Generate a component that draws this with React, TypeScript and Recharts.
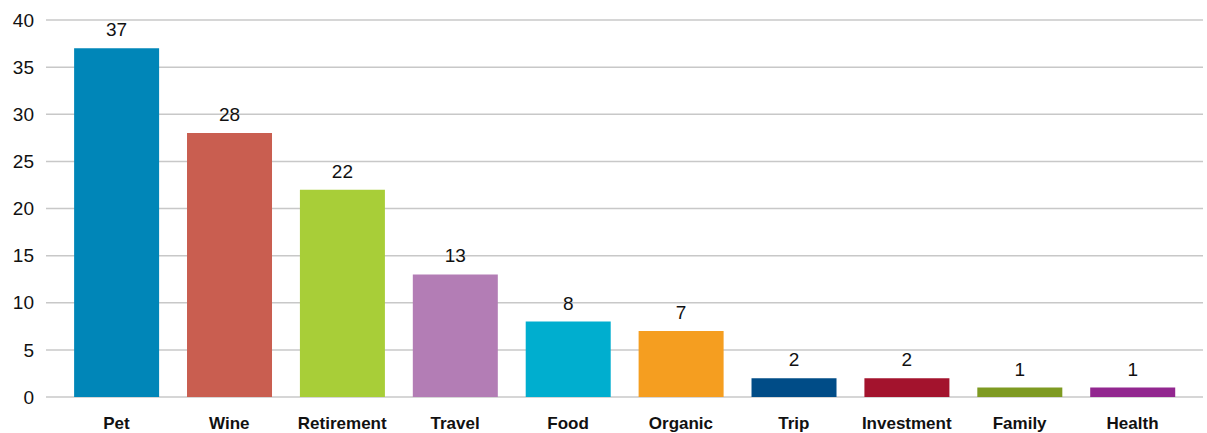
import { BarChart, Bar, XAxis, YAxis, CartesianGrid, Cell, LabelList } from 'recharts';

const categories = ['Pet', 'Wine', 'Retirement', 'Travel', 'Food', 'Organic', 'Trip', 'Investment', 'Family', 'Health'];
const counts = [37, 28, 22, 13, 8, 7, 2, 2, 1, 1];
const colors = ['#0086B8', '#C95E50', '#A8CE38', '#B37DB5', '#00AECF', '#F59E20', '#004C87', '#A3132D', '#7E9A22', '#92278F'];
const yTicks = [0, 5, 10, 15, 20, 25, 30, 35, 40];

const data = categories.map((name, i) => ({ name, value: counts[i] }));

const App = () => {
  return (
    <div style={{ position: 'absolute', left: 0, top: 0, background: '#fff', fontFamily: '"Liberation Sans", Arial, sans-serif' }}>
      <BarChart width={1207} height={433} data={data} margin={{ top: 20, right: 4, bottom: 0, left: 0 }} barCategoryGap="12.5%">
        <CartesianGrid vertical={false} stroke="#c8c8c8" strokeWidth={1.5} />
        <XAxis
          dataKey="name"
          height={36}
          axisLine={false}
          tickLine={false}
          padding={{ left: 14, right: 14 }}
          tick={{ fill: '#111', fontSize: 17, fontWeight: 'bold', fontFamily: '"Liberation Sans Narrow", "Liberation Sans", sans-serif' }}
          dy={12}
        />
        <YAxis
          width={46}
          domain={[0, 40]}
          ticks={yTicks}
          axisLine={false}
          tickLine={false}
          tick={{ fill: '#111', fontSize: 19 }}
          dx={-4}
          interval={0}
        />
        <Bar dataKey="value" isAnimationActive={false}>
          {data.map((d, i) => (
            <Cell key={d.name} fill={colors[i]} />
          ))}
          <LabelList dataKey="value" position="top" offset={12} style={{ fill: '#111', fontSize: 19 }} />
        </Bar>
      </BarChart>
    </div>
  );
};

export default App;
